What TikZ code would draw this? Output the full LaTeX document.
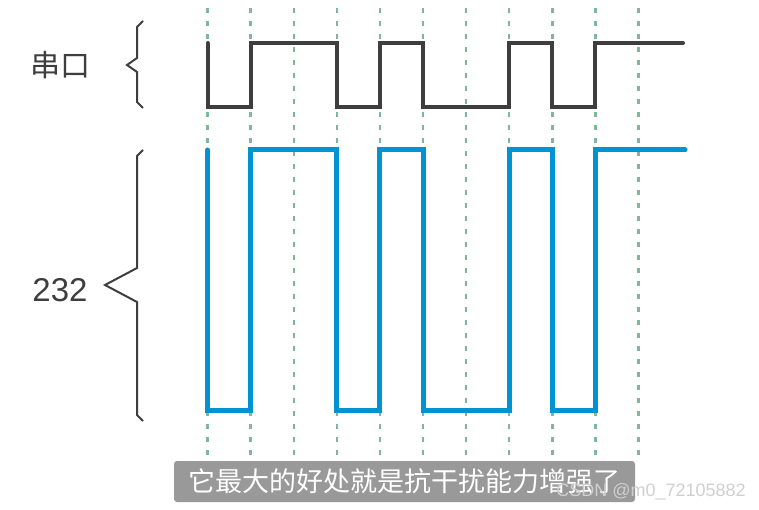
\documentclass[tikz,border=0pt]{standalone}
\usepackage{fontspec}
\setmainfont{Liberation Sans}
\newfontfamily\cjkfont{Noto Sans CJK SC}
\usetikzlibrary{positioning}
\definecolor{gridgreen}{HTML}{7FB898}
\definecolor{wavegray}{HTML}{3E3E3E}
\definecolor{waveblue}{HTML}{0093D1}
\definecolor{capgray}{HTML}{999999}
\definecolor{markgray}{HTML}{CFCFCF}

\begin{document}
\begin{tikzpicture}[
        x=1pt, y=-1pt,
        gridline/.style={gridgreen, line width=2.4pt, dash pattern=on 5pt off 8pt},
        brace/.style={draw=wavegray, line width=2pt},
        uart/.style={wavegray, line width=4pt, line cap=round},
        rs/.style={waveblue, line width=5pt, line cap=round},
        label/.style={text=wavegray, inner sep=0pt}
    ]
    \useasboundingbox (0,0) rectangle (759,510);

    % Define the time grid
    \foreach \i in {0,...,10} {
        \coordinate (g\i) at ({207.5+43.1*\i},8);
        \draw[gridline] (g\i) -- ++(0,450);
    }

    % Signal levels
    \coordinate (uhi) at (0,43);
    \coordinate (ulo) at (0,107);
    \coordinate (rhi) at (0,150);
    \coordinate (rlo) at (0,410);

    % Draw the two waveforms
    \draw[uart] (g0 |- uhi) -- (g0 |- ulo) -- (g1 |- ulo) -- (g1 |- uhi) -- (g3 |- uhi)
        -- (g3 |- ulo) -- (g4 |- ulo) -- (g4 |- uhi) -- (g5 |- uhi) -- (g5 |- ulo)
        -- (g7 |- ulo) -- (g7 |- uhi) -- (g8 |- uhi) -- (g8 |- ulo) -- (g9 |- ulo)
        -- (g9 |- uhi) -- (683,43);
    \draw[rs] (g0 |- rhi) -- (g0 |- rlo) -- (g1 |- rlo) -- (g1 |- rhi) -- (g3 |- rhi)
        -- (g3 |- rlo) -- (g4 |- rlo) -- (g4 |- rhi) -- (g5 |- rhi) -- (g5 |- rlo)
        -- (g7 |- rlo) -- (g7 |- rhi) -- (g8 |- rhi) -- (g8 |- rlo) -- (g9 |- rlo)
        -- (g9 |- rhi) -- (685,150);

    % Braces and labels
    \draw[brace] (143,21) -- (137,27) -- (137,58) -- (127,65) -- (137,72) -- (137,102) -- (143,108);
    \draw[brace] (143,150) -- (137,156) -- (137,268) -- (105,285) -- (137,302) -- (137,415) -- (143,421);
    \node[label, font=\cjkfont\fontsize{30}{30}\selectfont] (uartlabel) at (60,65) {串口};
    \node[label, font=\fontsize{33}{33}\selectfont] (rslabel) at (60,290) {232};

    % Caption and watermark
    \node[fill=capgray, rounded corners=3pt, text=white, inner sep=0pt,
        minimum width=461pt, minimum height=41pt,
        font=\cjkfont\fontsize{27}{27}\selectfont] (caption) at (404.5,481.5) {它最大的好处就是抗干扰能力增强了};
    \node[text=markgray, inner sep=0pt, anchor=east,
        font=\fontsize{18}{18}\selectfont] (mark) at (746,492) {CSDN @m0\_72105882};

\end{tikzpicture}
\end{document}
